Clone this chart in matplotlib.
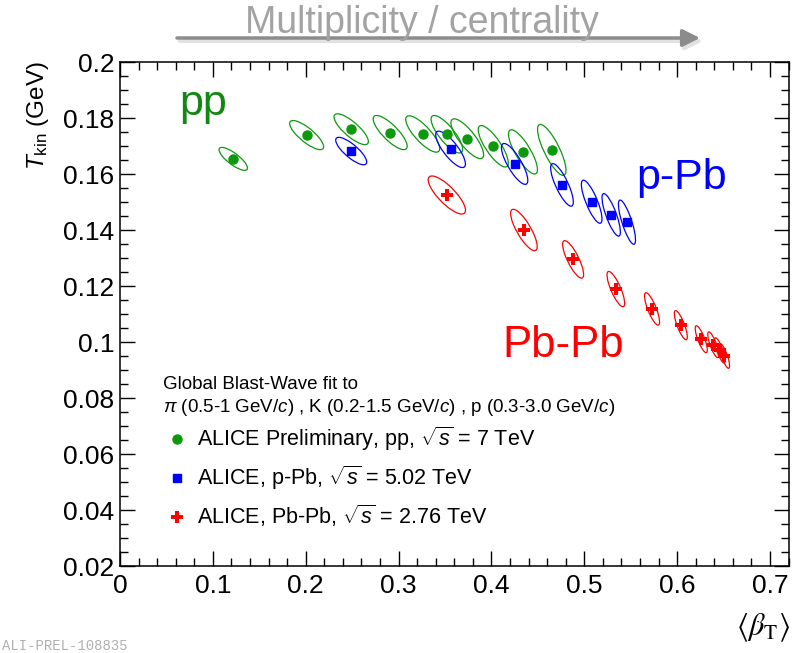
import numpy as np
import matplotlib
matplotlib.use("Agg")
import matplotlib.pyplot as plt
from matplotlib.patches import Ellipse
from matplotlib.ticker import MultipleLocator, FormatStrFormatter

plt.rcParams['font.family'] = ['Liberation Sans', 'DejaVu Sans']
plt.rcParams['mathtext.fontset'] = 'custom'
plt.rcParams['mathtext.rm'] = 'Liberation Sans'
plt.rcParams['mathtext.it'] = 'Liberation Sans:italic'
#================================================================================================#
## data: <beta_T>, T_kin and the size of the 1-sigma contours
pp_beta = [0.122, 0.201, 0.249, 0.291, 0.326, 0.352, 0.374, 0.402, 0.434, 0.465]
pp_T = [0.1654, 0.1739, 0.1760, 0.1748, 0.1743, 0.1742, 0.1726, 0.1699, 0.1679, 0.1686]
pp_sbeta = [0.0153, 0.0183, 0.0185, 0.0183, 0.0183, 0.0170, 0.0176, 0.0162, 0.0156, 0.0153]
pp_sT = [0.0041, 0.0052, 0.0055, 0.0061, 0.0065, 0.0067, 0.0071, 0.0074, 0.0079, 0.0091]

pPb_beta = [0.249, 0.356, 0.425, 0.476, 0.508, 0.529, 0.546]
pPb_T = [0.1682, 0.1688, 0.1636, 0.1561, 0.1501, 0.1454, 0.1428]
pPb_sbeta = [0.0167, 0.0160, 0.0142, 0.0122, 0.0111, 0.0099, 0.0092]
pPb_sT = [0.0049, 0.0065, 0.0073, 0.0076, 0.0077, 0.0076, 0.0079]

PbPb_beta = [0.352, 0.435, 0.488, 0.534, 0.573, 0.604, 0.626, 0.639, 0.646, 0.651]
PbPb_T = [0.1525, 0.1400, 0.1295, 0.1189, 0.1118, 0.1060, 0.1010, 0.0990, 0.0970, 0.0950]
PbPb_sbeta = [0.0201, 0.0143, 0.0113, 0.0095, 0.0081, 0.0070, 0.0065, 0.0060, 0.0058, 0.0055]
PbPb_sT = [0.0068, 0.0074, 0.0067, 0.0063, 0.0058, 0.0052, 0.0048, 0.0046, 0.0045, 0.0044]

corr = -0.8                     # beta-T correlation of the contours

legend_labels = [r"ALICE Preliminary, pp, $\sqrt{s}$ = 7 TeV",
                 r"ALICE, p-Pb, $\sqrt{s}$ = 5.02 TeV",
                 r"ALICE, Pb-Pb, $\sqrt{s}$ = 2.76 TeV"]
#================================================================================================#
c_pp = '#0c990c'
c_pPb = '#0000ff'
c_PbPb = '#ff0000'

def draw_contours(ax, xs, ys, sxs, sys_, color):
    for x, y, sx, sy in zip(xs, ys, sxs, sys_):
        cov = np.array([[sx * sx, corr * sx * sy], [corr * sx * sy, sy * sy]])
        vals, vecs = np.linalg.eigh(cov)
        angle = np.degrees(np.arctan2(vecs[1, 1], vecs[0, 1]))
        e = Ellipse((x, y), 2 * np.sqrt(vals[1]), 2 * np.sqrt(vals[0]), angle=angle,
                    fill=False, edgecolor=color, linewidth=0.9)
        ax.add_patch(e)

fig = plt.figure(figsize=(8, 6.53), dpi=100)
ax = fig.add_axes([120 / 800, 1 - 566 / 653, 669 / 800, 504 / 653])

draw_contours(ax, pp_beta, pp_T, pp_sbeta, pp_sT, c_pp)
draw_contours(ax, pPb_beta, pPb_T, pPb_sbeta, pPb_sT, c_pPb)
draw_contours(ax, PbPb_beta, PbPb_T, PbPb_sbeta, PbPb_sT, c_PbPb)

h1, = ax.plot(pp_beta, pp_T, 'o', color=c_pp, markersize=6.5, linestyle='none')
h2, = ax.plot(pPb_beta, pPb_T, 's', color=c_pPb, markersize=6, linestyle='none')
h3, = ax.plot(PbPb_beta, PbPb_T, 'P', color=c_PbPb, markersize=8.5, markeredgewidth=0, linestyle='none')

ax.set_xlim(0, 0.7205)
ax.set_ylim(0.02, 0.2)
ax.xaxis.set_major_locator(MultipleLocator(0.1))
ax.xaxis.set_minor_locator(MultipleLocator(0.02))
ax.yaxis.set_major_locator(MultipleLocator(0.02))
ax.yaxis.set_minor_locator(MultipleLocator(0.005))
ax.xaxis.set_major_formatter(FormatStrFormatter('%g'))
ax.yaxis.set_major_formatter(FormatStrFormatter('%g'))
ax.tick_params(which='both', direction='in', top=True, right=True, width=1.0)
ax.tick_params(axis='x', which='major', length=11, labelsize=19, pad=6)
ax.tick_params(axis='x', which='minor', length=5.5)
ax.tick_params(axis='y', which='major', length=11, labelsize=19, pad=4)
ax.tick_params(axis='y', which='minor', length=5.5)
for s in ax.spines.values():
    s.set_linewidth(1.1)

# axis titles
fig.text(38 / 800, 1 - 61 / 653, r"$T_{\rm kin}$ (GeV)", rotation=90, ha='center', va='top', fontsize=17.5)
fig.text(790 / 800, 1 - 612 / 653, r"$\langle\beta_{\rm T}\rangle$", ha='right', va='top',
         fontsize=22, math_fontfamily='stix')

# system labels
ax.text(0.064, 0.181, "pp", color='#118811', fontsize=31)
ax.text(0.556, 0.1545, "p-Pb", color=c_pPb, fontsize=31)
ax.text(0.412, 0.0945, "Pb-Pb", color=c_PbPb, fontsize=31.5)

# legend
fig.text(163 / 800, 1 - 384 / 653, "Global Blast-Wave fit to", fontsize=13.5, va='center')
fig.text(163 / 800, 1 - 407 / 653,
         r"$\pi$ (0.5-1 GeV/$c$) , K (0.2-1.5 GeV/$c$) , p (0.3-3.0 GeV/$c$)",
         fontsize=13.5, va='center')
leg = fig.legend([h1, h2, h3], legend_labels, loc='upper left',
                 bbox_to_anchor=(169 / 800, 1 - 425 / 653), frameon=False, fontsize=15.5,
                 handlelength=0.7, handletextpad=0.6, labelspacing=0.5, borderpad=0, borderaxespad=0)

# multiplicity arrow
ax.annotate('', xy=(703, 653 - 41), xytext=(180, 653 - 41), xycoords='figure pixels',
            arrowprops=dict(arrowstyle='-|>', color='#e2e2e2', lw=3, mutation_scale=26,
                            shrinkA=0, shrinkB=0), annotation_clip=False)
ax.annotate('', xy=(700, 653 - 38), xytext=(177, 653 - 38), xycoords='figure pixels',
            arrowprops=dict(arrowstyle='-|>', color='#8c8c8c', lw=2.5, mutation_scale=26,
                            shrinkA=0, shrinkB=0), annotation_clip=False)
fig.text(422 / 800, 1 - 33 / 653, "Multiplicity / centrality", color='#a3a3a3', fontsize=27,
         ha='center', va='baseline')

fig.text(2 / 800, 1 - 639 / 653, "ALI-PREL-108835", color='#b0b0b0', fontsize=10,
         family='Liberation Mono', va='top')

fig.savefig("out.png", dpi=100)
